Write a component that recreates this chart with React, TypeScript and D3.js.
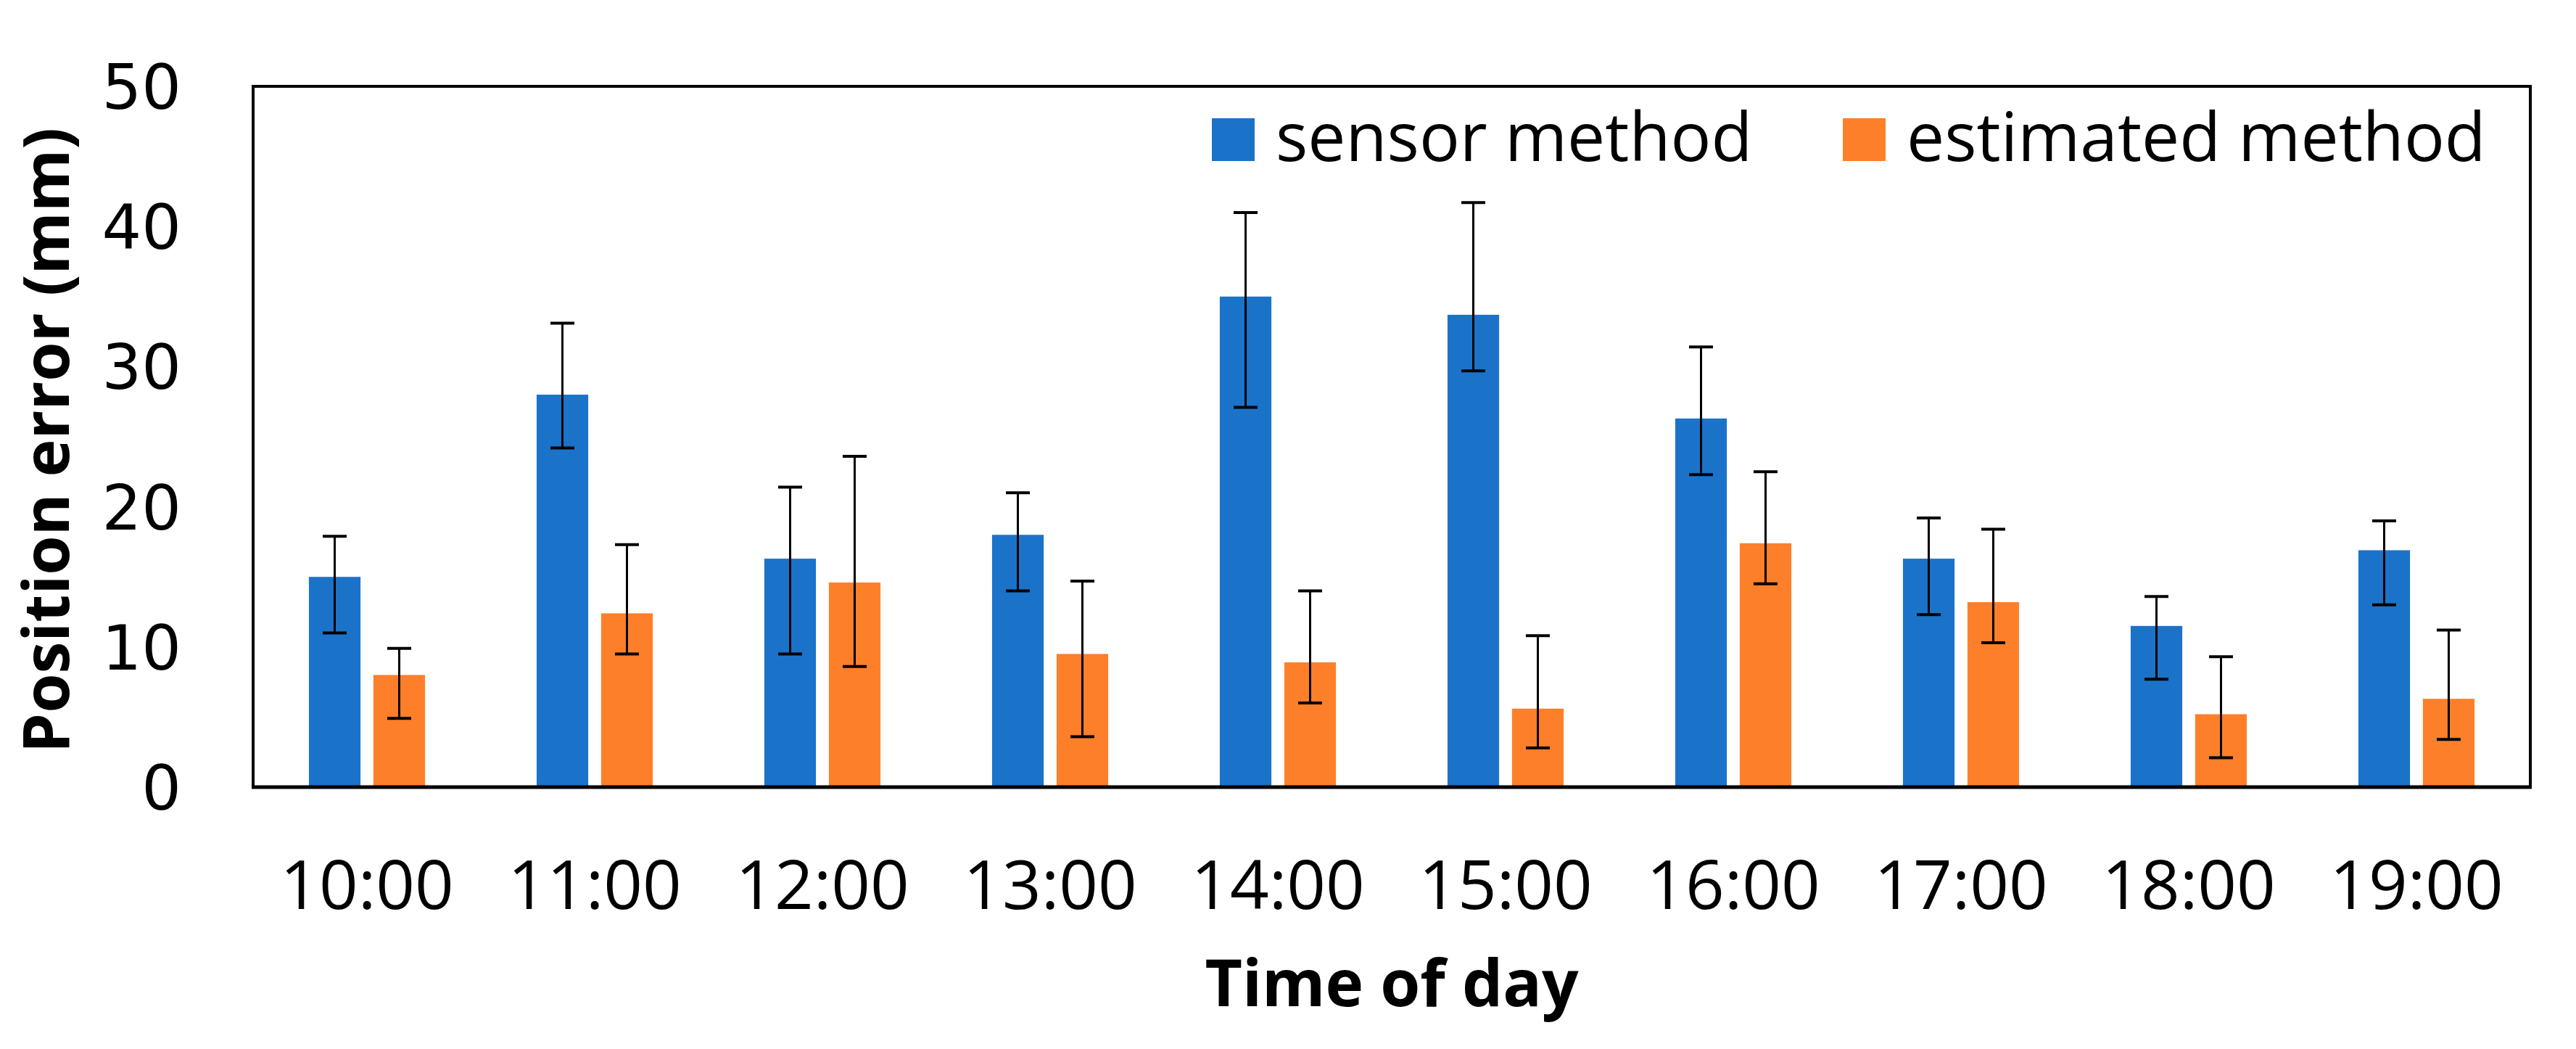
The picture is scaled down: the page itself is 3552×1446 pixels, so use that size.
import React, { useRef, useEffect } from "react";
import * as d3 from "d3";

const categories = ["10:00", "11:00", "12:00", "13:00", "14:00", "15:00", "16:00", "17:00", "18:00", "19:00"];
const seriesNames = ["sensor method", "estimated method"];
const seriesColors = ["#1b73c9", "#fe7f2a"];

// bar heights (mm)
const sensorValues = [15.0, 28.0, 16.3, 18.0, 35.0, 33.7, 26.3, 16.3, 11.5, 16.9];
const estimatedValues = [8.0, 12.4, 14.6, 9.5, 8.9, 5.6, 17.4, 13.2, 5.2, 6.3];

// error bar ends
const sensorHigh = [17.9, 33.1, 21.4, 21.0, 41.0, 41.7, 31.4, 19.2, 13.6, 19.0];
const sensorLow = [11.0, 24.2, 9.5, 14.0, 27.1, 29.7, 22.3, 12.3, 7.7, 13.0];
const estimatedHigh = [9.9, 17.3, 23.6, 14.7, 14.0, 10.8, 22.5, 18.4, 9.3, 11.2];
const estimatedLow = [4.9, 9.5, 8.6, 3.6, 6.0, 2.8, 14.5, 10.3, 2.1, 3.4];

const yTicks = [0, 10, 20, 30, 40, 50];

const width = 3552;
const height = 1446;
const margin = { top: 119, right: 63, bottom: 361, left: 349 };

const App = () => {
  const svgRef = useRef(null);

  useEffect(() => {
    const svg = d3.select(svgRef.current);
    svg.selectAll("*").remove();

    const plotRight = width - margin.right;
    const plotBottom = height - margin.bottom;

    const x0 = d3
      .scaleBand()
      .domain(categories)
      .range([margin.left, plotRight])
      .paddingInner(0.49)
      .paddingOuter(0.245);

    const x1 = d3
      .scaleBand()
      .domain(seriesNames)
      .range([0, x0.bandwidth()])
      .paddingInner(0.2);

    const y = d3.scaleLinear().domain([0, 50]).range([plotBottom, margin.top]);

    const rows = categories.map((c, i) => ({
      cat: c,
      bars: [
        { name: seriesNames[0], v: sensorValues[i], hi: sensorHigh[i], lo: sensorLow[i], color: seriesColors[0] },
        { name: seriesNames[1], v: estimatedValues[i], hi: estimatedHigh[i], lo: estimatedLow[i], color: seriesColors[1] },
      ],
    }));

    // bars
    const groups = svg
      .append("g")
      .selectAll("g")
      .data(rows)
      .enter()
      .append("g")
      .attr("transform", (d) => `translate(${x0(d.cat)},0)`);

    groups
      .selectAll("rect")
      .data((d) => d.bars)
      .enter()
      .append("rect")
      .attr("x", (d) => x1(d.name))
      .attr("y", (d) => y(d.v))
      .attr("width", x1.bandwidth())
      .attr("height", (d) => y(0) - y(d.v))
      .attr("fill", (d) => d.color);

    // error bars
    const err = groups
      .selectAll("g.err")
      .data((d) => d.bars)
      .enter()
      .append("g")
      .attr("class", "err")
      .attr("transform", (d) => `translate(${x1(d.name) + x1.bandwidth() / 2},0)`);

    err
      .append("line")
      .attr("x1", 0)
      .attr("x2", 0)
      .attr("y1", (d) => y(d.hi))
      .attr("y2", (d) => y(d.lo))
      .attr("stroke", "#000")
      .attr("stroke-width", 3);

    ["hi", "lo"].forEach((k) => {
      err
        .append("line")
        .attr("x1", -16.5)
        .attr("x2", 16.5)
        .attr("y1", (d) => y(d[k]))
        .attr("y2", (d) => y(d[k]))
        .attr("stroke", "#000")
        .attr("stroke-width", 4);
    });

    // frame
    svg
      .append("rect")
      .attr("x", margin.left)
      .attr("y", margin.top)
      .attr("width", plotRight - margin.left)
      .attr("height", plotBottom - margin.top)
      .attr("fill", "none")
      .attr("stroke", "#000")
      .attr("stroke-width", 4);
    svg
      .append("line")
      .attr("x1", margin.left - 2)
      .attr("x2", plotRight + 2)
      .attr("y1", plotBottom)
      .attr("y2", plotBottom)
      .attr("stroke", "#000")
      .attr("stroke-width", 5);

    // y tick labels
    svg
      .append("g")
      .selectAll("text")
      .data(yTicks)
      .enter()
      .append("text")
      .attr("x", 250)
      .attr("y", (d) => y(d) + 31)
      .attr("text-anchor", "end")
      .attr("font-family", "DejaVu Sans")
      .attr("font-size", 86)
      .attr("fill", "#000")
      .text((d) => d);

    // x tick labels
    svg
      .append("g")
      .selectAll("text")
      .data(categories)
      .enter()
      .append("text")
      .attr("x", (d) => x0(d) + x0.bandwidth() / 2)
      .attr("y", 1253)
      .attr("text-anchor", "middle")
      .attr("font-family", "Open Sans")
      .attr("font-size", 94)
      .attr("fill", "#000")
      .text((d) => d);

    // axis titles
    svg
      .append("text")
      .attr("x", (margin.left + plotRight) / 2)
      .attr("y", 1387)
      .attr("text-anchor", "middle")
      .attr("font-family", "Open Sans")
      .attr("font-weight", 700)
      .attr("font-size", 89)
      .text("Time of day");

    svg
      .append("text")
      .attr("transform", `translate(95,${(margin.top + plotBottom) / 2 + 5}) rotate(-90)`)
      .attr("text-anchor", "middle")
      .attr("font-family", "Open Sans")
      .attr("font-weight", 700)
      .attr("font-size", 88)
      .text("Position error (mm)");

    // legend
    const legendX = [1671, 2541];
    const legend = svg
      .append("g")
      .selectAll("g")
      .data(seriesNames)
      .enter()
      .append("g")
      .attr("transform", (d, i) => `translate(${legendX[i]},222)`);
    legend
      .append("rect")
      .attr("x", 0)
      .attr("y", -59)
      .attr("width", 59)
      .attr("height", 59)
      .attr("fill", (d, i) => seriesColors[i]);
    legend
      .append("text")
      .attr("x", 88)
      .attr("y", 0)
      .attr("font-family", "Open Sans")
      .attr("font-size", 93)
      .attr("fill", "#000")
      .text((d) => d);
  }, []);

  return (
    <svg
      ref={svgRef}
      width={width}
      height={height}
      style={{ position: "absolute", left: 0, top: 0, background: "#fff" }}
    />
  );
};

export default App;
